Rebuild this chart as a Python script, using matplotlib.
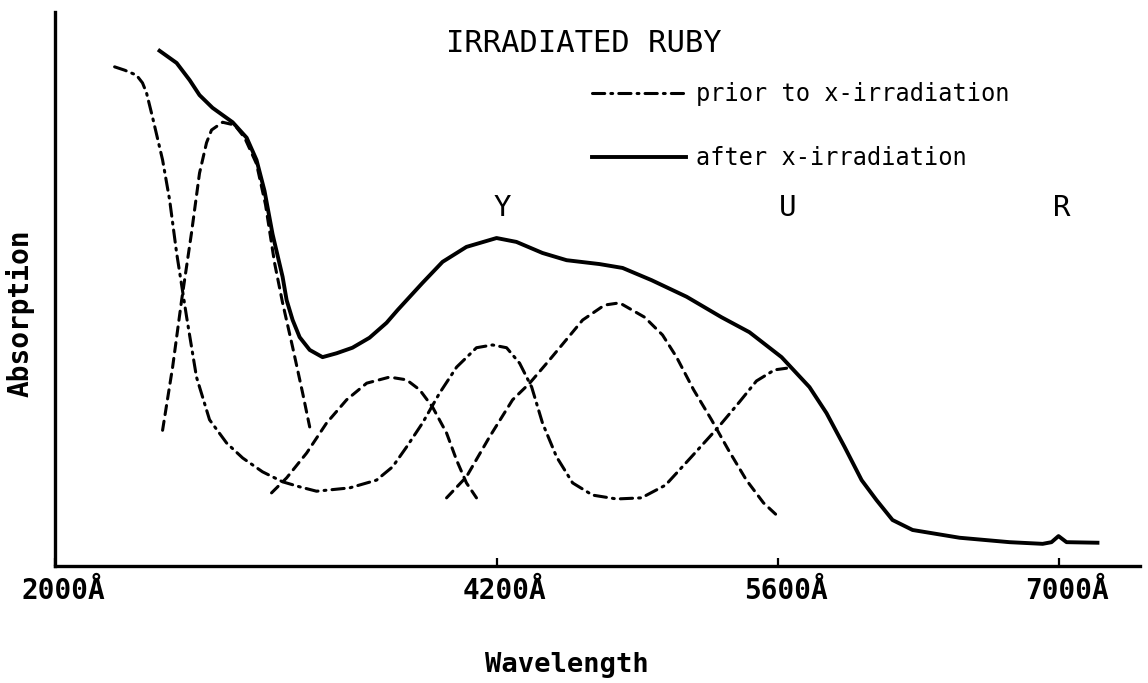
import numpy as np
import matplotlib.pyplot as plt
from matplotlib.transforms import ScaledTranslation

# absorption is in arbitrary units: 0 = wavelength axis, 100 = top of the absorption axis

# after x-irradiation (solid)
after_wl = [2521, 2606, 2671, 2720, 2785, 2885, 2955, 3004, 3044, 3084, 3134, 3154,
            3184, 3219, 3269, 3333, 3403, 3482, 3567, 3652, 3707, 3831, 3931, 4050,
            4200, 4299, 4429, 4549, 4713, 4828, 4972, 5147, 5321, 5460, 5620, 5759,
            5844, 5934, 6019, 6093, 6173, 6273, 6507, 6756, 6921, 6965, 7000, 7040,
            7194]
after_abs = [93.0, 90.8, 87.7, 85.0, 82.7, 80.1, 77.3, 73.3, 67.7, 59.9, 52.2, 48.0,
             44.4, 41.3, 39.0, 37.7, 38.4, 39.4, 41.2, 43.9, 46.2, 51.1, 54.9, 57.6,
             59.2, 58.5, 56.5, 55.2, 54.5, 53.8, 51.6, 48.6, 44.9, 42.2, 37.7, 32.3,
             27.6, 21.5, 15.5, 11.9, 8.3, 6.5, 5.1, 4.3, 4.0, 4.3, 5.4, 4.3, 4.2]

# prior to x-irradiation (dash-dot)
prior_wl = [2297, 2347, 2406, 2436, 2456, 2486, 2536, 2571, 2606, 2656, 2705, 2770,
            2855, 2935, 3034, 3134, 3218, 3303, 3468, 3602, 3682, 3752, 3831, 3916,
            4001, 4100, 4180, 4250, 4315, 4375, 4429, 4499, 4579, 4678, 4798, 4922,
            5042, 5166, 5306, 5410, 5495, 5585, 5645]
prior_abs = [90.1, 89.5, 88.6, 87.2, 85.4, 81.0, 73.3, 66.1, 56.5, 44.9, 34.1, 26.4,
             22.2, 19.5, 17.0, 15.2, 14.3, 13.5, 14.1, 15.5, 17.9, 21.5, 25.8, 31.2,
             35.9, 39.4, 39.9, 39.4, 36.6, 32.3, 25.8, 19.7, 15.0, 12.8, 12.1, 12.3,
             14.6, 19.5, 25.1, 29.6, 33.4, 35.4, 35.7]

# resolved bands (dashed)
band1_wl = [2536, 2586, 2631, 2680, 2720, 2755, 2780, 2835, 2895, 2945, 3004, 3049,
            3094, 3134, 3184, 3234, 3269]
band1_abs = [24.5, 35.9, 48.0, 60.1, 70.9, 76.4, 78.7, 80.1, 79.6, 77.3, 72.6, 65.2,
             54.7, 47.5, 39.5, 31.2, 25.1]
band2_wl = [3079, 3154, 3254, 3353, 3453, 3553, 3667, 3752, 3817, 3881, 3951, 4001,
            4050, 4100]
band2_abs = [13.2, 15.9, 20.4, 25.8, 30.0, 33.0, 34.1, 33.6, 31.8, 28.7, 24.0, 19.1,
             15.0, 12.3]
band3_wl = [3951, 4050, 4165, 4280, 4365, 4464, 4629, 4738, 4813, 4938, 5027, 5097,
            5182, 5271, 5356, 5445, 5530, 5595]
band3_abs = [12.3, 16.1, 23.3, 30.0, 33.0, 37.2, 44.4, 47.1, 47.5, 44.9, 41.7, 37.7,
             31.8, 26.4, 20.9, 15.5, 11.4, 9.2]

tick_wl = [2000, 4200, 5600, 7000]
tick_labels = ["2000Å", "4200Å", "5600Å", "7000Å"]
centre_names = ["Y", "U", "R"]
centre_wl = [4230, 5650, 7015]

FONT = "DejaVu Sans Mono"
plt.rcParams["font.family"] = FONT

fig = plt.figure(figsize=(11.48, 6.83), dpi=100)
ax = fig.add_axes([55 / 1148, 117 / 683, 1085 / 1148, 554 / 683])

style = dict(color="black", solid_joinstyle="round", dash_joinstyle="round",
             dash_capstyle="round")
prior_line, = ax.plot(prior_wl, prior_abs, lw=2.2, dashes=(4.0, 2.0, 0.6, 2.0),
                      label="prior to x-irradiation", **style)
after_line, = ax.plot(after_wl, after_abs, lw=2.8, label="after x-irradiation", **style)
for wl, ab in [(band1_wl, band1_abs), (band2_wl, band2_abs), (band3_wl, band3_abs)]:
    ax.plot(wl, ab, lw=2.2, dashes=(3.0, 2.2), **style)

ax.set_xlim(2000, 7406)
ax.set_ylim(0, 100)
for side in ["top", "right"]:
    ax.spines[side].set_visible(False)
for side in ["left", "bottom"]:
    ax.spines[side].set_linewidth(2.4)
ax.set_yticks([])
ax.set_xticks(tick_wl, tick_labels, fontsize=20, fontweight="bold")
ax.tick_params(axis="x", direction="in", length=6, width=1.6, pad=8)
for lab in ax.get_xticklabels():
    lab.set_transform(lab.get_transform() + ScaledTranslation(0.08, 0, fig.dpi_scale_trans))

for name, wl in zip(centre_names, centre_wl):
    ax.text(wl, 64.6, name, ha="center", va="center", fontsize=21)

fig.text(446 / 1148, 1 - 44 / 683, "IRRADIATED RUBY", ha="left", va="center", fontsize=22)
fig.text(20 / 1148, 1 - 313 / 683, "Absorption", rotation=90, ha="center", va="center",
         fontsize=20, fontweight="bold")
fig.text(567 / 1148, 1 - 665 / 683, "Wavelength", ha="center", va="center",
         fontsize=19.5, fontweight="bold")

ax.legend(handles=[prior_line, after_line], loc="upper left",
          bbox_to_anchor=(580 / 1148, 1 - 70 / 683), bbox_transform=fig.transFigure,
          frameon=False, borderpad=0, fontsize=17, handlelength=4.0,
          handletextpad=0.4, labelspacing=1.7)

fig.savefig("out.png", dpi=100)
